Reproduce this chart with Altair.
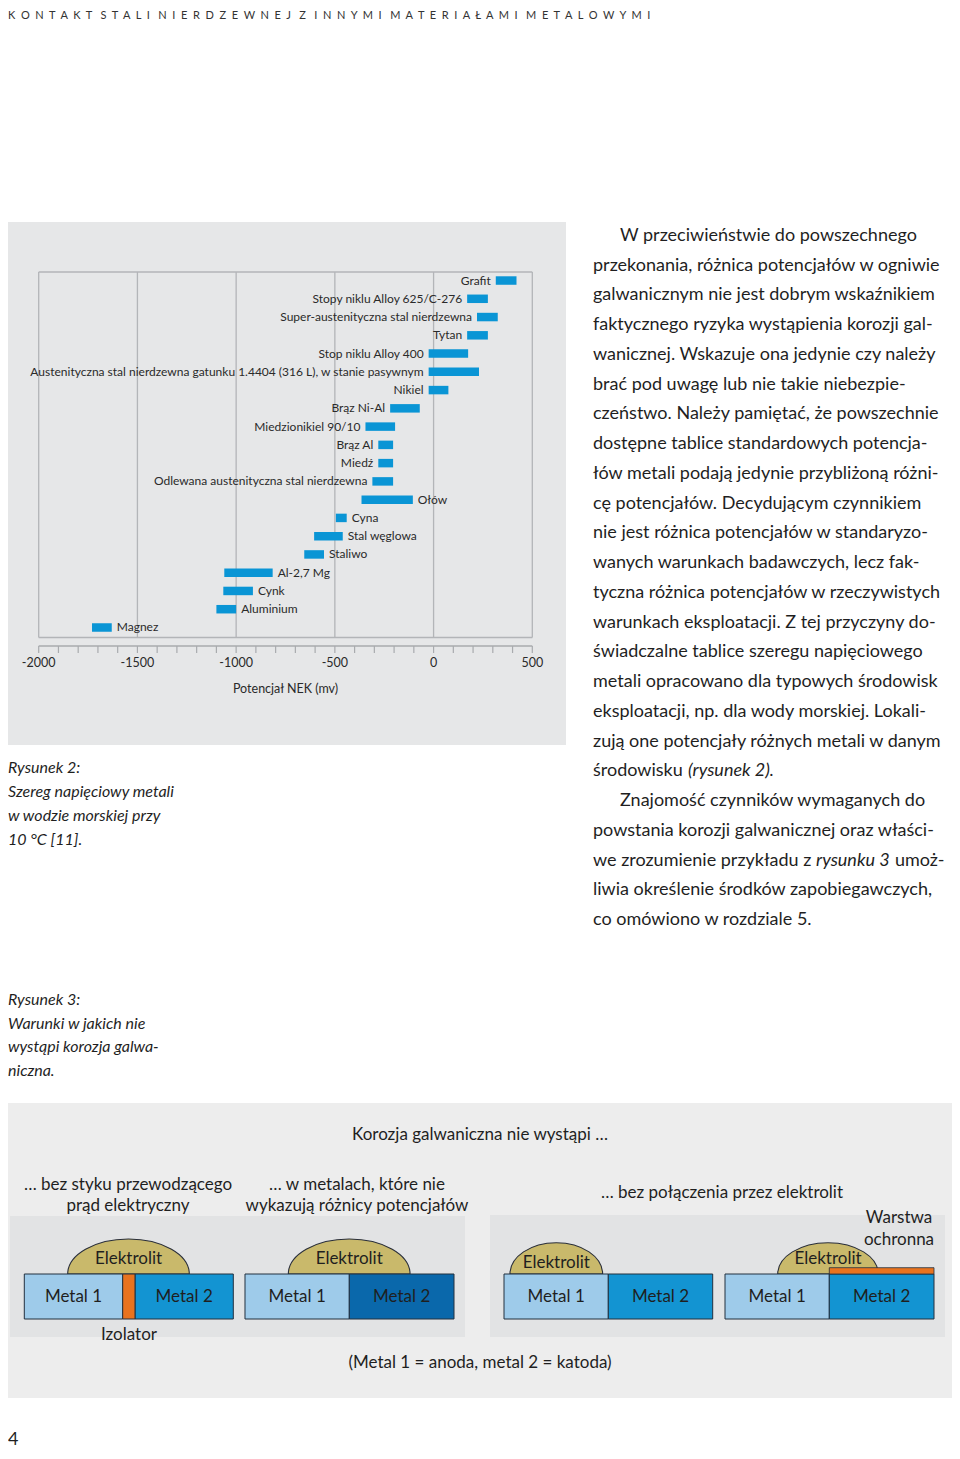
import altair as alt
import pandas as pd

FONT = "Lato"
TXT = "#1f1f1f"

# ---------------- data: galvanic series in sea water (mV, NEK) ----------------
metals = [
    "Grafit", "Stopy niklu Alloy 625/C-276", "Super-austenityczna stal nierdzewna",
    "Tytan", "Stop niklu Alloy 400",
    "Austenityczna stal nierdzewna gatunku 1.4404 (316 L), w stanie pasywnym",
    "Nikiel", "Brąz Ni-Al", "Miedzionikiel 90/10", "Brąz Al", "Miedź",
    "Odlewana austenityczna stal nierdzewna", "Ołów", "Cyna", "Stal węglowa",
    "Staliwo", "Al-2,7 Mg", "Cynk", "Aluminium", "Magnez",
]
pot_low = [315, 170, 220, 170, -25, -25, -25, -220, -345, -280, -280, -310,
           -365, -495, -605, -655, -1060, -1065, -1100, -1730]
pot_high = [420, 275, 325, 275, 175, 230, 75, -70, -195, -205, -205, -205,
            -105, -440, -460, -555, -815, -915, -1000, -1630]
label_side = ["left"] * 12 + ["right"] * 8

grid_values = [-2000, -1500, -1000, -500, 0, 500]
grid_labels = ["-2000", "-1500", "-1000", "-500", "0", "500"]
tick_values = list(range(-2000, 501, 100))
axis_title = "Potencjał NEK (mv)"

header = "KONTAKT STALI NIERDZEWNEJ Z INNYMI MATERIAŁAMI METALOWYMI"
caption2 = ["Rysunek 2:", "Szereg napięciowy metali", "w wodzie morskiej przy", "10 °C [11]."]
caption3 = ["Rysunek 3:", "Warunki w jakich nie", "wystąpi korozja galwa-", "niczna."]
body_lines = [
    "W przeciwieństwie do powszechnego",
    "przekonania, różnica potencjałów w ogniwie",
    "galwanicznym nie jest dobrym wskaźnikiem",
    "faktycznego ryzyka wystąpienia korozji gal-",
    "wanicznej. Wskazuje ona jedynie czy należy",
    "brać pod uwagę lub nie takie niebezpie-",
    "czeństwo. Należy pamiętać, że powszechnie",
    "dostępne tablice standardowych potencja-",
    "łów metali podają jedynie przybliżoną różni-",
    "cę potencjałów. Decydującym czynnikiem",
    "nie jest różnica potencjałów w standaryzo-",
    "wanych warunkach badawczych, lecz fak-",
    "tyczna różnica potencjałów w rzeczywistych",
    "warunkach eksploatacji. Z tej przyczyny do-",
    "świadczalne tablice szeregu napięciowego",
    "metali opracowano dla typowych środowisk",
    "eksploatacji, np. dla wody morskiej. Lokali-",
    "zują one potencjały różnych metali w danym",
    "środowisku (rysunek 2).",
    "Znajomość czynników wymaganych do",
    "powstania korozji galwanicznej oraz właści-",
    "we zrozumienie przykładu z rysunku 3 umoż-",
    "liwia określenie środków zapobiegawczych,",
    "co omówiono w rozdziale 5.",
]
fig_title = "Korozja galwaniczna nie wystąpi …"
sub1 = ["… bez styku przewodzącego", "prąd elektryczny"]
sub2 = ["… w metalach, które nie", "wykazują różnicy potencjałów"]
sub3 = "… bez połączenia przez elektrolit"
fig_note = "(Metal 1 = anoda, metal 2 = katoda)"

# ---------------- helpers ----------------
ONE = pd.DataFrame({"k": [0]})


def box(x1, x2, y1, y2, fill, stroke=None, sw=1.0):
    kw = dict(fill=fill)
    if stroke:
        kw.update(stroke=stroke, strokeWidth=sw)
    return alt.Chart(ONE).mark_rect(**kw).encode(
        x=alt.value(x1), x2=alt.value(x2), y=alt.value(y1), y2=alt.value(y2))


def text(lines, x, y, size, lh=None, align="left", italic=False, color=TXT,
         baseline="alphabetic"):
    if isinstance(lines, str):
        lines = [lines]
    return alt.Chart(pd.DataFrame({"t": ["\n".join(lines)]})).mark_text(
        align=align, baseline=baseline, fontSize=size, font=FONT,
        fontStyle="italic" if italic else "normal", lineBreak="\n",
        lineHeight=lh or size * 1.25, color=color,
    ).encode(x=alt.value(x), y=alt.value(y), text="t:N")


def dome(cx, base, w, h):
    r = 2.0 * h / w
    path = f"M -1 0 A 1 {r:.4f} 0 0 1 1 0 Z"
    return alt.Chart(ONE).mark_point(
        shape=path, size=w * w, filled=True, fill="#c9b96b", stroke="#2a2f3a",
        strokeWidth=1.1, opacity=1,
    ).encode(x=alt.value(cx), y=alt.value(base))


layers = []

# ---------------- header (tracked capitals) ----------------
NB = "\u00a0"
spaced = (NB * 3).join((NB * 2).join(w) for w in header.split(" "))
layers.append(text(spaced, 0, 11, 11, color="#333333"))

# ---------------- chart panel ----------------
layers.append(box(0, 558, 214, 737, "#e6e7e8"))

XS = alt.Scale(domain=[-2000, 500], range=[30.7, 524.3])
YS = alt.Scale(domain=metals, range=[263.4, 628.6], paddingInner=0.535,
               paddingOuter=0.2675)
GRID = "#b3b5b8"
LBL = "#2a2a2a"

gdf = pd.DataFrame({"v": grid_values, "t": grid_labels})
layers.append(alt.Chart(gdf).mark_rule(color=GRID, strokeWidth=1.3).encode(
    x=alt.X("v:Q", scale=XS, axis=None), y=alt.value(264), y2=alt.value(629.5)))
hdf = pd.DataFrame({"a": [grid_values[0]], "b": [grid_values[-1]]})
for yy in (264, 629.5):
    layers.append(alt.Chart(hdf).mark_rule(color=GRID, strokeWidth=1.3).encode(
        x=alt.X("a:Q", scale=XS, axis=None), x2="b:Q", y=alt.value(yy)))

df = pd.DataFrame({"metal": metals, "lo": pot_low, "hi": pot_high, "side": label_side})
ybar = alt.Y("metal:N", scale=YS, axis=None, sort=metals)
layers.append(alt.Chart(df).mark_bar(color="#0a95d5", cornerRadius=0).encode(
    x=alt.X("lo:Q", scale=XS, axis=None), x2="hi:Q", y=ybar))
layers.append(alt.Chart(df).transform_filter("datum.side == 'left'").mark_text(
    align="right", baseline="middle", dx=-5, fontSize=12, font=FONT, color=LBL).encode(
    x=alt.X("lo:Q", scale=XS, axis=None), y=ybar, text="metal:N"))
layers.append(alt.Chart(df).transform_filter("datum.side == 'right'").mark_text(
    align="left", baseline="middle", dx=5, fontSize=12, font=FONT, color=LBL).encode(
    x=alt.X("hi:Q", scale=XS, axis=None), y=ybar, text="metal:N"))

# axis (drawn through the same scale)
layers.append(alt.Chart(hdf).mark_rule(color="#a9abae", strokeWidth=1.3).encode(
    x=alt.X("a:Q", scale=XS, axis=None), x2="b:Q", y=alt.value(638)))
tdf = pd.DataFrame({"v": tick_values})
layers.append(alt.Chart(tdf).mark_rule(color="#a9abae", strokeWidth=1.2).encode(
    x=alt.X("v:Q", scale=XS, axis=None), y=alt.value(638), y2=alt.value(645)))
layers.append(alt.Chart(gdf).mark_text(
    baseline="middle", fontSize=12.5, font=FONT, color=LBL).encode(
    x=alt.X("v:Q", scale=XS, axis=None), y=alt.value(655), text="t:N"))
adf = pd.DataFrame({"v": [(grid_values[0] + grid_values[-1]) / 2], "t": [axis_title]})
layers.append(alt.Chart(adf).mark_text(
    baseline="middle", fontSize=12.5, font=FONT, color=LBL).encode(
    x=alt.X("v:Q", scale=XS, axis=None), y=alt.value(681), text="t:N"))

# ---------------- captions ----------------
layers.append(text(caption2, 0, 765, 16, lh=24, italic=True))
layers.append(text(caption3, 0, 997, 16, lh=23.7, italic=True))

# ---------------- body text ----------------
LH = 29.74
B0 = 233
BS = 18
layers.append(text(body_lines[0], 612, B0, BS))
layers.append(text(body_lines[1:18], 585, B0 + LH, BS, lh=LH))
layers.append(text("środowisku", 585, B0 + 18 * LH, BS))
layers.append(text("(rysunek 2).", 680, B0 + 18 * LH, BS, italic=True))
layers.append(text(body_lines[19], 612, B0 + 19 * LH, BS))
layers.append(text(body_lines[20], 585, B0 + 20 * LH, BS))
layers.append(text("we zrozumienie przykładu z", 585, B0 + 21 * LH, BS))
layers.append(text("rysunku 3", 808, B0 + 21 * LH, BS, italic=True))
layers.append(text("umoż-", 887, B0 + 21 * LH, BS))
layers.append(text(body_lines[22:], 585, B0 + 22 * LH, BS, lh=LH))

# ---------------- figure 3 ----------------
layers.append(box(0, 944, 1095, 1390, "#ededed"))
layers.append(box(2, 457, 1208, 1329, "#e2e3e4"))
layers.append(box(482, 937, 1207, 1329, "#e2e3e4"))
layers.append(text(fig_title, 472, 1127, 17, align="center", baseline="middle"))
layers.append(text(sub1, 120, 1177, 17, lh=21, align="center", baseline="middle"))
layers.append(text(sub2, 349, 1177, 17, lh=21, align="center", baseline="middle"))
layers.append(text(sub3, 714, 1185, 17, align="center", baseline="middle"))

L1, M2A, M2B, OR = "#9ecbea", "#1394d2", "#0a68ab", "#e8731f"
OUT = "#22303f"
# domes (drawn below the metal strips)
layers.append(dome(120.5, 1266, 121.6, 35))
layers.append(dome(341.2, 1266, 121.7, 35))
layers.append(dome(548.3, 1266, 92.7, 31.3))
layers.append(dome(820.0, 1266, 100.6, 31.3))
strips = [
    (16.3, 114.7, L1, "Metal 1"), (127, 225.3, M2A, "Metal 2"),
    (237, 341.3, L1, "Metal 1"), (341.3, 446, M2B, "Metal 2"),
    (496, 600.3, L1, "Metal 1"), (600.3, 704.7, M2A, "Metal 2"),
    (717, 821.3, L1, "Metal 1"), (821.3, 926, M2A, "Metal 2"),
]
for x1, x2, col, lab in strips:
    layers.append(box(x1, x2, 1266, 1311, col, OUT))
layers.append(box(114.7, 127, 1266, 1311, OR, OUT))          # izolator
layers.append(box(821.3, 926, 1259.7, 1266, OR, OUT, 0.8))   # warstwa ochronna

for cx, yy in [(120.5, 1251), (341.2, 1251), (548.3, 1255), (820, 1251)]:
    layers.append(text("Elektrolit", cx, yy, 17, align="center", baseline="middle"))
for x1, x2, col, lab in strips:
    layers.append(text(lab, (x1 + x2) / 2, 1289, 17, align="center", baseline="middle"))
layers.append(text(["Warstwa", "ochronna"], 891, 1210, 17, lh=22, align="center", baseline="middle"))
layers.append(text("Izolator", 121, 1327, 17, align="center", baseline="middle"))
layers.append(text(fig_note, 472, 1355, 17, align="center", baseline="middle"))

# page number
layers.append(text("4", 0, 1437, 18, baseline="alphabetic"))

chart = alt.layer(*layers).properties(
    width=944, height=1443, padding=0, autosize=alt.AutoSizeParams(type="none"),
    background="white",
).configure_view(stroke=None)

chart.save("out.html", embed_options={"renderer": "svg", "actions": False})
